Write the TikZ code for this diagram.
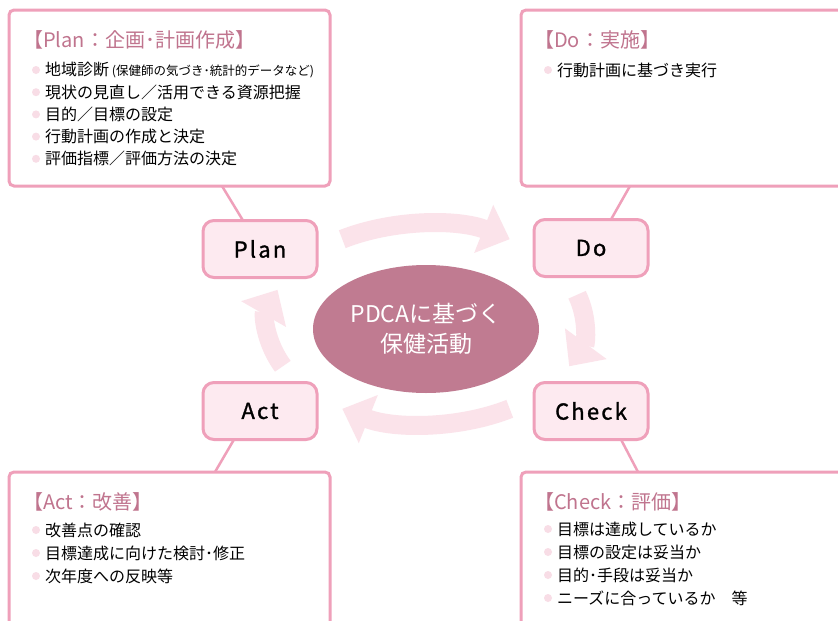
\documentclass[tikz,border=0pt]{standalone}
\usepackage{fontspec}
\setmainfont{Noto Sans CJK JP}
\newfontfamily\stagefont[LetterSpace=10, FakeBold=1.2]{Noto Sans CJK JP}
\usetikzlibrary{arrows.meta,calc,shapes.geometric}

\definecolor{framepink}{HTML}{EFA0BA}
\definecolor{stagefill}{HTML}{FDEAF0}
\definecolor{flowpink}{HTML}{FBE3EA}
\definecolor{hubmauve}{HTML}{C07B91}
\definecolor{headmauve}{HTML}{C0748E}
\definecolor{dotpink}{HTML}{F8DDE6}

\tikzset{
  panel/.style={draw=framepink, line width=3pt, fill=white, rounded corners=5pt,
    anchor=north west, inner sep=0pt, outer sep=0pt},
  stage/.style={draw=framepink, line width=3pt, fill=stagefill, rounded corners=11pt,
    minimum width=114pt, minimum height=57pt, outer sep=0pt,
    font=\stagefont\fontsize{22}{22}\selectfont},
  hub/.style={ellipse, fill=hubmauve, minimum width=226pt, minimum height=128pt,
    text=white, align=center, font=\fontsize{23}{30}\selectfont},
  heading/.style={anchor=west, inner sep=0pt, text=headmauve, font=\fontsize{20}{20}\selectfont},
  entry/.style={anchor=west, inner sep=0pt, font=\fontsize{16}{16}\selectfont},
  dot/.style={fill=dotpink},
  flow/.style={draw=flowpink, line width=19pt, -{Triangle[length=28pt,width=50pt]}},
  link/.style={draw=framepink, line width=2.5pt}
}

\begin{document}
\begin{tikzpicture}[x=1pt, y=-1pt]
\useasboundingbox (0,0) rectangle (838,621);
\fill[white] (0,0) rectangle (838,621);
\clip (0,0) rectangle (838,621);

% four description panels (right and bottom ones run off the page)
\node[panel, minimum width=321pt, minimum height=176pt] (planbox)  at (9,10)   {};
\node[panel, minimum width=340pt, minimum height=176pt] (dobox)    at (521,10) {};
\node[panel, minimum width=321pt, minimum height=180pt] (actbox)   at (9,472)  {};
\node[panel, minimum width=340pt, minimum height=180pt] (checkbox) at (521,472){};

% cycle stages
\node[stage] (plan)  at (260,249) {Plan};
\node[stage] (do)    at (591,248) {Do};
\node[stage] (act)   at (260,411) {Act};
\node[stage] (check) at (591,411) {Check};

% centre hub
\node[hub] (hub) at (426,329) {PDCAに基づく\\保健活動};
\coordinate (loop) at ($(hub)+(0,-5)$);

% circulating arrows
\draw[flow] ($(loop)+(238:158 and 100)$) arc[start angle=238, end angle=302, x radius=158, y radius=100];
\draw[flow] ($(loop)+(-17:158 and 100)$) arc[start angle=-17, end angle=25, x radius=158, y radius=100];
\draw[flow] ($(loop)+(58:158 and 100)$)  arc[start angle=58, end angle=122, x radius=158, y radius=100];
\draw[flow] ($(loop)+(155:158 and 100)$) arc[start angle=155, end angle=200, x radius=158, y radius=100];

% links between panels and stages
\draw[link] ($(planbox.south west)+(213,0)$) -- ($(plan.north west)+(40,0)$);
\draw[link] ($(dobox.south west)+(109,0)$) -- ($(do.north west)+(77,0)$);
\draw[link] ($(act.south west)+(31,0)$) -- ($(actbox.north west)+(206,0)$);
\draw[link] ($(check.south west)+(87,0)$) -- ($(checkbox.north west)+(117,0)$);

% Plan panel
\node[heading] (plantitle) at (23,40) {【Plan：企画･計画作成】};
\foreach \txt [count=\i] in {{地域診断\,{\fontsize{12.5}{12.5}\selectfont(保健師の気づき･統計的データなど)}},
    {現状の見直し／活用できる資源把握}, {目的／目標の設定}, {行動計画の作成と決定},
    {評価指標／評価方法の決定}} {
  \node[entry] (planitem\i) at (45,{70+22.2*(\i-1)}) {\txt};
  \fill[dot] ($(planitem\i.west)+(-9,0)$) circle (4);
}

% Do panel
\node[heading] (dotitle) at (534,40) {【Do：実施】};
\node[entry] (doitem1) at (557,70) {行動計画に基づき実行};
\fill[dot] ($(doitem1.west)+(-9,0)$) circle (4);

% Act panel
\node[heading] (acttitle) at (23,502) {【Act：改善】};
\foreach \txt [count=\i] in {{改善点の確認}, {目標達成に向けた検討･修正}, {次年度への反映等}} {
  \node[entry] (actitem\i) at (45,{530+23*(\i-1)}) {\txt};
  \fill[dot] ($(actitem\i.west)+(-9,0)$) circle (4);
}

% Check panel
\node[heading] (checktitle) at (534,502) {【Check：評価】};
\foreach \txt [count=\i] in {{目標は達成しているか}, {目標の設定は妥当か}, {目的･手段は妥当か},
    {ニーズに合っているか　等}} {
  \node[entry] (checkitem\i) at (557,{529+23*(\i-1)}) {\txt};
  \fill[dot] ($(checkitem\i.west)+(-9,0)$) circle (4);
}
\end{tikzpicture}
\end{document}
